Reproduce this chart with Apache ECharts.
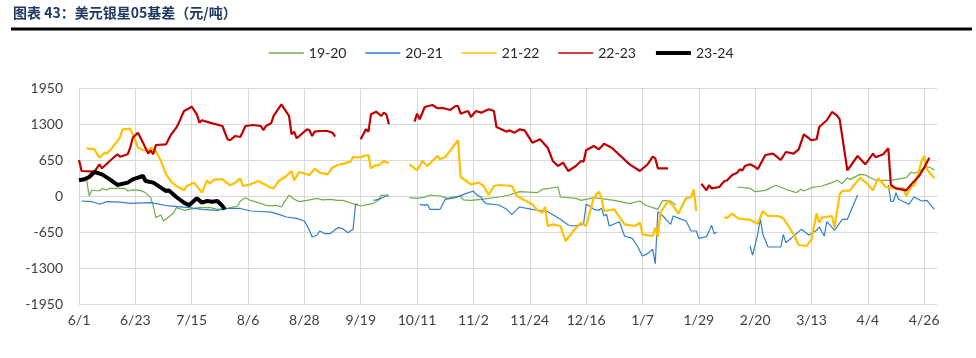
<!DOCTYPE html>
<html>
<head>
<meta charset="utf-8">
<script src="https://cdn.jsdelivr.net/npm/echarts@6/dist/echarts.min.js"></script>
<style>
html,body{margin:0;padding:0;background:#fff;}
#chart{width:976px;height:358px;}
</style>
</head>
<body>
<div id="chart"></div>
<script>
// Category axis: daily dates 6/1 (2023) .. 5/1 (2024), index = days since 6/1
const categories = [];
for (let i = 0; i < 336; i++) {
  const d = new Date(Date.UTC(2023, 5, 1 + i));
  categories.push((d.getUTCMonth() + 1) + '/' + d.getUTCDate());
}
const yTicks = [-1950, -1300, -650, 0, 650, 1300, 1950];
const seriesNames = ['19-20', '20-21', '21-22', '22-23', '23-24'];

// [day index, value]; null = gap
const s1920 = [[3,283],[4,0],[5,108],[8,90],[9,132],[11,110],[12,139],[18,139],[19,90],[21,110],[24,102],[26,60],[28,-30],[29,-180],[30,-391],[32,-343],[33,-451],[35,-379],[37,-301],[38,-211],[41,-258],[43,-241],[47,-211],[51,-205],[54,-241],[58,-223],[62,-180],[63,-90],[65,-30],[67,-80],[70,-120],[73,-168],[75,-180],[77,-170],[79,-199],[80,-120],[82,12],[84,-60],[86,-102],[89,-78],[93,-42],[95,-70],[98,-60],[101,-80],[103,-78],[107,-139],[110,-180],[112,-160],[115,-132],[117,-78],[118,12],[121,18],[125,null],[129,-30],[132,-42],[135,-20],[137,18],[141,0],[144,-42],[146,-20],[149,0],[150,-70],[153,-78],[157,-60],[164,-18],[168,18],[172,78],[179,60],[181,121],[187,163],[188,-18],[194,-42],[196,-78],[201,-30],[209,-78],[215,-139],[219,-90],[221,-163],[226,-241],[228,-78],[231,-90],[233,-163],[245,null],[257,163],[262,139],[264,78],[268,102],[272,193],[276,121],[280,60],[282,121],[283,90],[286,150],[290,181],[294,241],[296,283],[298,222],[300,331],[301,300],[305,391],[307,380],[311,283],[317,283],[323,331],[325,433],[326,410],[328,439],[330,512],[332,524],[334,470]];

const s2021 = [[1,-90],[5,-100],[8,-150],[11,-102],[16,-110],[20,-132],[28,-120],[35,-180],[43,-211],[48,-241],[54,-258],[58,-223],[63,-225],[67,-271],[71,-280],[75,-292],[78,-331],[81,-379],[85,-403],[88,-451],[90,-620],[91,-740],[93,-704],[94,-632],[96,-680],[98,-680],[101,-572],[103,-590],[105,-663],[107,-602],[108,-150],[109,-150],[112,null],[115,-78],[116,-70],[118,-42],[120,0],[121,0],[126,null],[133,-150],[135,-170],[136,-150],[137,-241],[141,-241],[143,-60],[147,-30],[151,42],[154,90],[155,30],[157,-20],[158,-100],[159,-139],[164,-163],[167,-241],[169,-331],[171,-241],[172,-199],[177,-241],[180,-262],[183,-283],[188,-421],[191,-524],[193,-542],[197,-512],[198,-150],[200,-200],[201,-241],[203,-258],[204,-223],[205,-361],[206,-330],[207,-542],[211,-464],[213,-722],[216,-765],[218,-903],[220,-1084],[222,-1040],[224,-963],[225,-1222],[226,-283],[228,-361],[231,-512],[232,-361],[234,-400],[237,-451],[239,-632],[241,-632],[242,-765],[245,-734],[247,-530],[248,-680],[249,-650],[255,null],[262,-903],[263,-1066],[265,-692],[266,-410],[267,-692],[269,-921],[274,-921],[275,-692],[276,-843],[282,-602],[285,-704],[288,-620],[289,-560],[291,-722],[292,-464],[295,-620],[298,-421],[300,-421],[304,18],[310,null],[316,199],[317,-102],[318,-90],[319,60],[320,-60],[324,-150],[326,-18],[329,-90],[331,-80],[334,-241]];

const s2122 = [[3,861],[6,843],[8,692],[10,782],[11,770],[13,872],[16,1053],[17,1204],[20,1216],[21,1114],[23,872],[25,831],[27,825],[28,872],[30,813],[32,632],[34,391],[36,258],[38,181],[41,102],[42,181],[45,241],[48,60],[50,283],[51,222],[53,301],[56,301],[59,193],[61,240],[63,319],[64,181],[67,211],[70,271],[75,150],[76,139],[78,271],[81,361],[83,451],[84,283],[86,433],[90,379],[92,494],[94,421],[97,391],[99,512],[101,560],[103,580],[106,620],[107,704],[110,692],[111,722],[113,740],[114,500],[116,560],[117,550],[119,632],[121,590],[125,null],[129,572],[132,464],[134,632],[136,542],[140,722],[141,662],[143,704],[148,1006],[149,343],[153,211],[156,241],[158,181],[160,18],[162,181],[164,199],[169,181],[171,0],[174,-78],[177,-150],[179,-258],[181,-301],[182,-199],[183,-542],[185,-512],[188,-542],[190,-813],[193,-632],[196,-482],[197,-512],[198,-542],[201,-30],[203,78],[204,-30],[205,-271],[209,-241],[213,-512],[217,-542],[219,-482],[220,-692],[224,-722],[225,-572],[226,-740],[227,-301],[230,-90],[232,-180],[234,-319],[237,-42],[239,-18],[240,121],[241,-271],[246,null],[252,-379],[253,-400],[255,-319],[257,-391],[258,-410],[262,-430],[265,-500],[267,-271],[269,-361],[273,-361],[275,-400],[277,-542],[279,-692],[281,-885],[284,-903],[286,-783],[287,-542],[288,-313],[289,-482],[290,-391],[294,-361],[295,-572],[297,30],[298,90],[301,102],[305,331],[308,211],[310,102],[312,319],[315,163],[318,139],[322,139],[323,0],[325,181],[326,181],[327,301],[329,632],[330,722],[331,482],[334,319]];

const s2223 = [[0,650],[1,451],[6,439],[8,572],[9,500],[12,632],[15,753],[16,710],[19,753],[20,872],[21,1053],[23,1143],[25,963],[27,765],[28,825],[29,753],[30,921],[34,933],[36,1114],[38,1234],[39,1324],[41,1535],[43,1584],[44,1613],[46,1475],[47,1324],[48,1367],[51,1324],[56,1264],[58,1024],[59,1006],[61,1084],[63,1066],[65,1264],[68,1282],[71,1264],[72,1186],[73,1264],[75,1313],[76,1445],[79,1656],[82,1445],[83,1114],[84,1162],[85,1042],[89,1204],[90,1186],[91,1084],[92,1162],[94,1174],[97,1174],[99,1143],[100,1072],[105,null],[110,1024],[112,1204],[113,1162],[114,1475],[116,1523],[118,1445],[119,1505],[120,1475],[121,1295],[126,null],[131,1342],[132,1486],[133,1385],[135,1607],[138,1643],[140,1584],[142,1590],[145,1553],[147,1625],[148,1625],[149,1486],[151,1523],[152,1530],[153,1427],[155,1535],[157,1505],[160,1566],[162,1535],[163,1246],[167,1162],[168,1186],[170,1143],[172,1204],[174,1186],[177,963],[180,1024],[183,873],[185,632],[187,542],[189,602],[191,451],[194,542],[196,632],[197,620],[198,825],[201,903],[203,843],[205,945],[208,872],[215,572],[219,451],[222,572],[224,710],[225,680],[226,500],[230,500],[236,null],[243,222],[245,102],[246,193],[247,139],[250,163],[252,271],[253,280],[255,379],[257,421],[258,482],[259,460],[260,542],[262,572],[264,524],[265,482],[268,740],[271,765],[274,650],[276,795],[279,765],[281,843],[283,1114],[286,1006],[288,1024],[289,1246],[292,1367],[294,1517],[296,1450],[297,1385],[300,464],[304,722],[307,572],[310,765],[311,700],[314,753],[316,861],[317,199],[319,139],[323,102],[325,211],[328,361],[330,512],[332,692]];

const s2324 = [[0,283],[2,301],[4,343],[6,433],[9,391],[12,301],[15,199],[19,241],[21,301],[25,361],[26,271],[29,241],[32,150],[34,90],[35,102],[38,-18],[41,-120],[43,-168],[46,-42],[48,-120],[50,-90],[52,-102],[54,-90],[56,-180],[57,-241]];

const colors = ['#70AD47', '#2E7FCB', '#FFC000', '#C00000', '#000000'];
const widths = [1.2, 1.2, 2.2, 2.2, 4];
const allData = [s1920, s2021, s2122, s2223, s2324];

const chart = echarts.init(document.getElementById('chart'), null, {renderer: 'canvas'});
const FONT = 'Lato, "Noto Sans", sans-serif';
chart.setOption({
  animation: false,
  title: {
    text: '图表 43：美元银星05基差（元/吨）',
    left: 13, top: 6, padding: 0,
    textStyle: {fontFamily: '"Noto Sans CJK SC", sans-serif', fontSize: 14, fontWeight: 'bold', color: '#1F3864'}
  },
  graphic: [{
    type: 'rect', left: 11, top: 27.5, shape: {width: 961, height: 3}, style: {fill: '#000'}
  }],
  legend: {
    data: seriesNames.map((n, k) => ({name: n, lineStyle: {width: k === 4 ? 4 : 1.6, color: colors[k]}})),
    left: 268, top: 46, padding: 0,
    itemWidth: 35, itemHeight: 14, itemGap: 18,
    itemStyle: {opacity: 0},
    textStyle: {fontFamily: FONT, fontSize: 14, color: '#262626'}
  },
  grid: {left: 79, right: 39, top: 88, bottom: 54, containLabel: false},
  xAxis: {
    type: 'category', data: categories, boundaryGap: false,
    axisLine: {lineStyle: {color: '#D9D9D9'}},
    axisTick: {show: false, interval: 21},
    axisLabel: {interval: 21, fontFamily: FONT, fontSize: 14, color: '#404040', margin: 9},
    splitLine: {show: true, interval: 21, lineStyle: {color: '#D9D9D9', width: 1}}
  },
  yAxis: {
    type: 'value', min: yTicks[0], max: yTicks[yTicks.length - 1], interval: 650,
    axisLine: {show: true, lineStyle: {color: '#D9D9D9'}},
    axisTick: {show: false},
    axisLabel: {fontFamily: FONT, fontSize: 14, color: '#404040', margin: 16, formatter: v => String(v)},
    splitLine: {lineStyle: {color: '#D9D9D9', width: 1}}
  },
  series: seriesNames.map((n, k) => ({
    name: n, type: 'line', data: allData[k], symbol: 'none', showSymbol: false,
    connectNulls: false, color: colors[k],
    lineStyle: {color: colors[k], width: widths[k]},
    z: 2 + k
  }))
});
</script>
</body>
</html>
